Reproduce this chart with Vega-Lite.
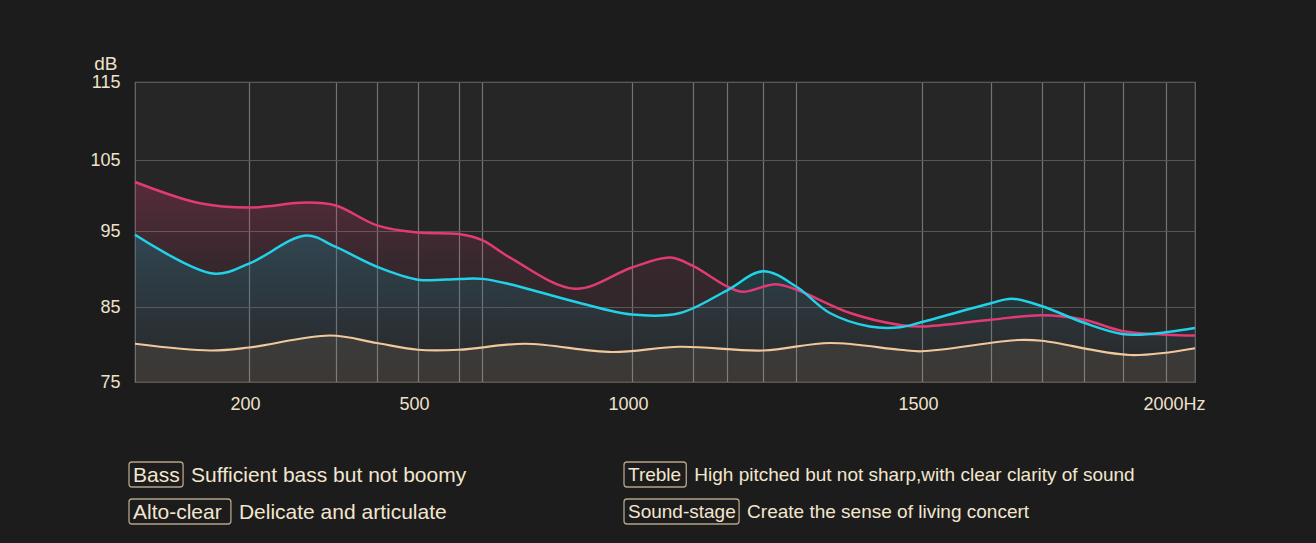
{
  "$schema": "https://vega.github.io/schema/vega-lite/v6.json",
  "width": 1060,
  "height": 300,
  "autosize": {"type": "none"},
  "padding": {"left": 135, "top": 82, "right": 121, "bottom": 161},
  "background": "#1c1c1c",
  "config": {
    "view": {"fill": "#262626", "stroke": "#6b6b6b", "strokeWidth": 1.2},
    "font": "Liberation Sans",
    "axis": {"labelColor": "#efe2cb", "labelFont": "Liberation Sans", "labelFontSize": 18, "domain": false, "ticks": false, "tickSize": 0}
  },
  "datasets": {
    "curves": [
      {"series": "s1", "hz": 0, "db": 101.9},
      {"series": "s1", "hz": 114, "db": 98.9},
      {"series": "s1", "hz": 200, "db": 98.3},
      {"series": "s1", "hz": 301, "db": 99.0},
      {"series": "s1", "hz": 354, "db": 98.6},
      {"series": "s1", "hz": 427, "db": 95.8},
      {"series": "s1", "hz": 500, "db": 94.8},
      {"series": "s1", "hz": 596, "db": 94.6},
      {"series": "s1", "hz": 650, "db": 93.8},
      {"series": "s1", "hz": 715, "db": 91.5},
      {"series": "s1", "hz": 867, "db": 87.4},
      {"series": "s1", "hz": 1000, "db": 90.2},
      {"series": "s1", "hz": 1066, "db": 91.5},
      {"series": "s1", "hz": 1105, "db": 90.4},
      {"series": "s1", "hz": 1164, "db": 87.7},
      {"series": "s1", "hz": 1191, "db": 87.0},
      {"series": "s1", "hz": 1247, "db": 88.0},
      {"series": "s1", "hz": 1283, "db": 87.3},
      {"series": "s1", "hz": 1376, "db": 84.2},
      {"series": "s1", "hz": 1462, "db": 82.6},
      {"series": "s1", "hz": 1500, "db": 82.4},
      {"series": "s1", "hz": 1641, "db": 83.3},
      {"series": "s1", "hz": 1746, "db": 83.9},
      {"series": "s1", "hz": 1832, "db": 83.3},
      {"series": "s1", "hz": 1910, "db": 81.8},
      {"series": "s1", "hz": 2000, "db": 81.3},
      {"series": "s1", "hz": 2060, "db": 81.2},
      {"series": "s2", "hz": 0, "db": 94.5},
      {"series": "s2", "hz": 137, "db": 89.4},
      {"series": "s2", "hz": 200, "db": 90.7},
      {"series": "s2", "hz": 301, "db": 94.4},
      {"series": "s2", "hz": 354, "db": 92.9},
      {"series": "s2", "hz": 427, "db": 90.3},
      {"series": "s2", "hz": 500, "db": 88.6},
      {"series": "s2", "hz": 596, "db": 88.7},
      {"series": "s2", "hz": 650, "db": 88.7},
      {"series": "s2", "hz": 715, "db": 88.0},
      {"series": "s2", "hz": 867, "db": 85.7},
      {"series": "s2", "hz": 1000, "db": 84.0},
      {"series": "s2", "hz": 1083, "db": 84.2},
      {"series": "s2", "hz": 1164, "db": 87.2},
      {"series": "s2", "hz": 1226, "db": 89.7},
      {"series": "s2", "hz": 1283, "db": 87.7},
      {"series": "s2", "hz": 1341, "db": 84.2},
      {"series": "s2", "hz": 1410, "db": 82.4},
      {"series": "s2", "hz": 1462, "db": 82.3},
      {"series": "s2", "hz": 1500, "db": 83.0},
      {"series": "s2", "hz": 1641, "db": 85.5},
      {"series": "s2", "hz": 1684, "db": 86.1},
      {"series": "s2", "hz": 1746, "db": 85.1},
      {"series": "s2", "hz": 1832, "db": 82.9},
      {"series": "s2", "hz": 1910, "db": 81.4},
      {"series": "s2", "hz": 1967, "db": 81.4},
      {"series": "s2", "hz": 2060, "db": 82.2},
      {"series": "s3", "hz": 0, "db": 80.1},
      {"series": "s3", "hz": 132, "db": 79.2},
      {"series": "s3", "hz": 200, "db": 79.6},
      {"series": "s3", "hz": 344, "db": 81.2},
      {"series": "s3", "hz": 427, "db": 80.2},
      {"series": "s3", "hz": 500, "db": 79.3},
      {"series": "s3", "hz": 596, "db": 79.3},
      {"series": "s3", "hz": 750, "db": 80.1},
      {"series": "s3", "hz": 953, "db": 79.0},
      {"series": "s3", "hz": 1083, "db": 79.7},
      {"series": "s3", "hz": 1226, "db": 79.2},
      {"series": "s3", "hz": 1341, "db": 80.2},
      {"series": "s3", "hz": 1462, "db": 79.3},
      {"series": "s3", "hz": 1500, "db": 79.1},
      {"series": "s3", "hz": 1697, "db": 80.6},
      {"series": "s3", "hz": 1746, "db": 80.5},
      {"series": "s3", "hz": 1926, "db": 78.6},
      {"series": "s3", "hz": 2060, "db": 79.5}
    ],
    "notes": [
      {"tag": "Bass", "desc": "Sufficient bass but not boomy", "col": 0, "line": 0},
      {"tag": "Alto-clear ", "desc": "Delicate and articulate", "col": 0, "line": 1},
      {"tag": "Treble", "desc": "High pitched but not sharp,with clear clarity of sound", "col": 1, "line": 0},
      {"tag": "Sound-stage", "desc": "Create the sense of living concert", "col": 1, "line": 1}
    ]
  },
  "layer": [
    {
      "data": {"name": "curves"},
      "encoding": {
        "x": {
          "field": "hz", "type": "quantitative",
          "scale": {"domain": [0, 200, 500, 1000, 1500, 2000, 2060], "range": [0, 114, 283, 497, 787, 1031, 1060], "nice": false, "zero": false},
          "axis": {
            "title": null,
            "values": [200, 354, 427, 500, 596, 650, 1000, 1105, 1164, 1226, 1283, 1500, 1641, 1746, 1832, 1912, 2000],
            "labelExpr": "datum.value == 2000 ? '2000Hz' : ((datum.value == 200 || datum.value == 500 || datum.value == 1000 || datum.value == 1500) ? toString(datum.value) : '')",
            "labelOverlap": false,
            "labelPadding": 13,
            "labelAlign": {"condition": {"test": "datum.value == 2000", "value": "left"}, "value": "center"},
            "labelOffset": {"condition": {"test": "datum.value == 2000", "value": -23}, "value": -4},
            "grid": true, "gridColor": "#737373", "gridWidth": 1.2
          }
        },
        "y": {
          "field": "db", "type": "quantitative",
          "scale": {"domain": [75, 85, 95, 105, 115], "range": [300, 225, 149, 78, 0], "nice": false, "zero": false},
          "axis": {
            "title": "dB", "titleColor": "#efe2cb", "titleFont": "Liberation Sans", "titleFontSize": 19, "titleFontWeight": "normal",
            "titleAngle": 0, "titleX": -18, "titleY": -13, "titleAlign": "right", "titleBaseline": "alphabetic",
            "values": [75, 85, 95, 105, 115], "labelPadding": 15,
            "grid": true, "gridColor": "#575757", "gridWidth": 1.2
          }
        }
      },
      "layer": [
        {
          "transform": [{"filter": "datum.series == 's1'"}],
          "mark": {"type": "area", "interpolate": "catmull-rom",
            "fill": {"gradient": "linear", "x1": 0, "y1": 0, "x2": 0, "y2": 1, "stops": [{"offset": 0, "color": "rgba(226,58,116,0.26)"}, {"offset": 0.4, "color": "rgba(226,58,116,0.09)"}, {"offset": 1, "color": "rgba(226,58,116,0.0)"}]}},
          "encoding": {"y2": {"datum": 75}}
        },
        {
          "transform": [{"filter": "datum.series == 's2'"}],
          "mark": {"type": "area", "interpolate": "catmull-rom",
            "fill": {"gradient": "linear", "x1": 0, "y1": 0, "x2": 0, "y2": 1, "stops": [{"offset": 0, "color": "rgba(20,130,150,0.32)"}, {"offset": 0.6, "color": "rgba(20,130,150,0.12)"}, {"offset": 1, "color": "rgba(20,130,150,0.0)"}]}},
          "encoding": {"y2": {"datum": 75}}
        },
        {
          "transform": [{"filter": "datum.series == 's3'"}],
          "mark": {"type": "area", "interpolate": "catmull-rom",
            "fill": {"gradient": "linear", "x1": 0, "y1": 0, "x2": 0, "y2": 1, "stops": [{"offset": 0, "color": "rgba(241,200,155,0.08)"}, {"offset": 1, "color": "rgba(241,200,155,0.11)"}]}},
          "encoding": {"y2": {"datum": 75}}
        },
        {
          "transform": [{"filter": "datum.series == 's1'"}],
          "mark": {"type": "line", "interpolate": "catmull-rom", "color": "#e23a74", "strokeWidth": 2.5},
          "encoding": {}
        },
        {
          "transform": [{"filter": "datum.series == 's2'"}],
          "mark": {"type": "line", "interpolate": "catmull-rom", "color": "#22d2e8", "strokeWidth": 2.5},
          "encoding": {}
        },
        {
          "transform": [{"filter": "datum.series == 's3'"}],
          "mark": {"type": "line", "interpolate": "catmull-rom", "color": "#f1c89b", "strokeWidth": 2.2},
          "encoding": {}
        }
      ]
    },
    {
      "data": {"name": "notes"},
      "transform": [
        {"calculate": "0.556*length(datum.tag) + 0.13*(length(datum.tag)-length(replace(datum.tag, regexp('[A-Z]','g'), ''))) - 0.334*(length(datum.tag)-length(replace(datum.tag, regexp('[il]','g'), ''))) - 0.278*(length(datum.tag)-length(replace(datum.tag, regexp('[tf ]','g'), ''))) - 0.223*(length(datum.tag)-length(replace(datum.tag, regexp('[r-]','g'), ''))) - 0.056*(length(datum.tag)-length(replace(datum.tag, regexp('[sc]','g'), '')))", "as": "em"},
        {"calculate": "datum.col + (datum.em * (datum.col == 1 ? 19 : 21) + 7) / 495", "as": "boxEnd"}
      ],
      "encoding": {
        "x": {"field": "col", "type": "quantitative", "scale": {"domain": [0, 1], "range": [-6, 489], "nice": false, "zero": false}, "axis": null},
        "y": {"field": "line", "type": "quantitative", "scale": {"domain": [0, 1], "range": [400, 437], "nice": false, "zero": false}, "axis": null}
      },
      "layer": [
        {
          "mark": {"type": "rect", "fill": "#1c1c1c", "fillOpacity": 0, "stroke": "#b5a488", "strokeWidth": 1.3, "cornerRadius": 3, "yOffset": -20, "y2Offset": 5},
          "encoding": {"x2": {"field": "boxEnd"}, "y2": {"field": "line"}}
        },
        {
          "transform": [{"filter": "datum.col == 0"}],
          "mark": {"type": "text", "font": "Liberation Sans", "fontSize": 21, "align": "left", "baseline": "alphabetic", "dx": 4, "color": "#f3e6cf"},
          "encoding": {"text": {"field": "tag"}}
        },
        {
          "transform": [{"filter": "datum.col == 1"}],
          "mark": {"type": "text", "font": "Liberation Sans", "fontSize": 19, "align": "left", "baseline": "alphabetic", "dx": 4, "dy": -1, "color": "#f3e6cf"},
          "encoding": {"text": {"field": "tag"}}
        },
        {
          "transform": [{"filter": "datum.col == 0"}],
          "mark": {"type": "text", "font": "Liberation Sans", "fontSize": 21, "align": "left", "baseline": "alphabetic", "dx": 8, "color": "#f3e6cf"},
          "encoding": {"x": {"field": "boxEnd", "type": "quantitative"}, "text": {"field": "desc"}}
        },
        {
          "transform": [{"filter": "datum.col == 1"}],
          "mark": {"type": "text", "font": "Liberation Sans", "fontSize": 19, "align": "left", "baseline": "alphabetic", "dx": 8, "dy": -1, "color": "#f3e6cf"},
          "encoding": {"x": {"field": "boxEnd", "type": "quantitative"}, "text": {"field": "desc"}}
        }
      ]
    }
  ],
  "resolve": {"scale": {"x": "independent", "y": "independent"}}
}
